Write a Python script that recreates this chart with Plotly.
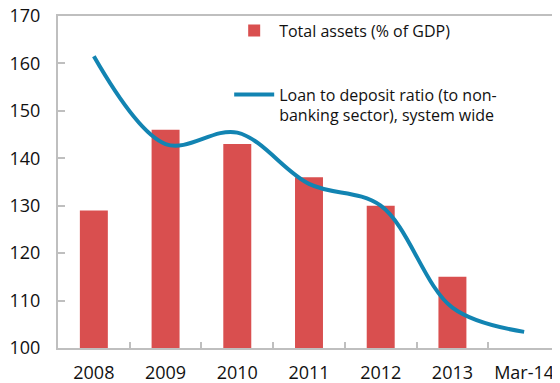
import plotly.graph_objects as go

categories = ["2008", "2009", "2010", "2011", "2012", "2013", "Mar-14"]
total_assets = [129, 146, 143, 136, 130, 115, None]
loan_to_deposit = [161.5, 143, 145.4, 134.6, 130, 108.5, 103.4]
y_ticks = [100, 110, 120, 130, 140, 150, 160, 170]

BAR_COLOR = "#D94F4F"
LINE_COLOR = "#1284B2"
AXIS_COLOR = "#BFBFBF"
FONT = "Open Sans"

fig = go.Figure()
fig.add_trace(go.Bar(
    x=categories, y=total_assets, name="Total assets (% of GDP)",
    marker=dict(color=BAR_COLOR, line=dict(width=0)), width=0.39,
    legendgroup="a",
))
fig.add_trace(go.Scatter(
    x=categories, y=loan_to_deposit, mode="lines",
    name="Loan to deposit ratio (to non-<br>banking sector), system wide",
    line=dict(color=LINE_COLOR, width=4, shape="spline", smoothing=1.0),
    legendgroup="b",
))

fig.update_layout(
    width=552, height=375,
    margin=dict(l=50, r=0, t=8, b=35, autoexpand=False),
    plot_bgcolor="white", paper_bgcolor="white",
    font=dict(family=FONT, size=18, color="#111111"),
    showlegend=True,
    legend=dict(
        x=0.341, y=1.007, xanchor="left", yanchor="top",
        bgcolor="rgba(0,0,0,0)", font=dict(size=16, family=FONT, color="#111111"),
        traceorder="grouped", tracegroupgap=40, itemwidth=40, valign="top",
    ),
    xaxis=dict(
        type="category", range=[-0.5, 6.5], automargin=False,
        showline=True, linecolor=AXIS_COLOR, linewidth=2, mirror=True,
        ticks="inside", tickson="boundaries", ticklen=6, tickcolor=AXIS_COLOR, tickwidth=2,
        showgrid=False, tickfont=dict(size=18), ticklabelstandoff=7,
        ticklabeloverflow="allow",
    ),
    yaxis=dict(
        range=[100, 170], tickvals=y_ticks, automargin=False,
        showline=True, linecolor=AXIS_COLOR, linewidth=2,
        ticks="inside", ticklen=7, tickcolor=AXIS_COLOR, tickwidth=2,
        showgrid=False, zeroline=False, tickfont=dict(size=18), ticklabelstandoff=12,
        ticklabeloverflow="allow",
    ),
    bargap=0.61,
)

fig.write_html("out.html")
